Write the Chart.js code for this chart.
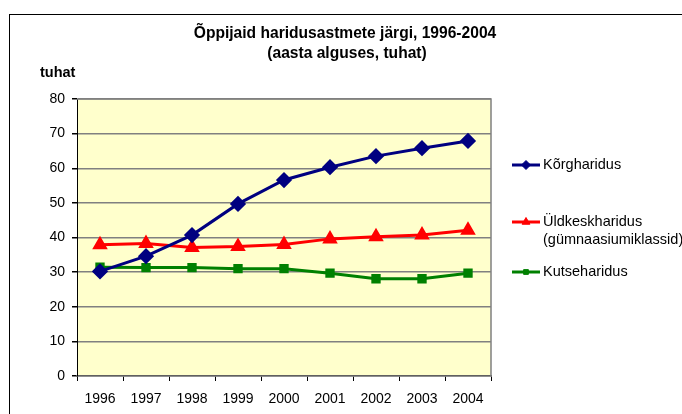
<!DOCTYPE html>
<html><head><meta charset="utf-8">
<script src="https://cdn.jsdelivr.net/npm/chart.js@4.4.0/dist/chart.umd.min.js"></script>
<style>html,body{margin:0;padding:0;background:#fff;}#wrap{width:682px;height:414px;position:relative;overflow:hidden;}</style>
</head><body><div id="wrap"><canvas id="c" width="682" height="414"></canvas></div>
<script>
const years = ['1996','1997','1998','1999','2000','2001','2002','2003','2004'];
const korgharidus = [30.2, 34.6, 40.7, 49.7, 56.6, 60.3, 63.5, 65.8, 67.9];
const yldkeskharidus = [37.9, 38.3, 37.1, 37.4, 38.0, 39.6, 40.2, 40.7, 42.1];
const kutseharidus = [31.4, 31.3, 31.3, 31.0, 31.0, 29.7, 28.1, 28.1, 29.7];
const seriesLabels = ['Kõrgharidus', 'Üldkeskharidus (gümnaasiumiklassid)', 'Kutseharidus'];
const titleLines = ['Õppijaid haridusastmete järgi, 1996-2004', '(aasta alguses, tuhat)'];
const yUnit = 'tuhat';
const yMin = 0, yMax = 80, yStep = 10;

const FONT = '"Liberation Sans", Arial, sans-serif';

const decor = {
  id: 'decor',
  beforeDraw(chart) {
    const ctx = chart.ctx, a = chart.chartArea;
    ctx.save();
    ctx.fillStyle = '#fff';
    ctx.fillRect(0, 0, chart.width, chart.height);
    ctx.strokeStyle = '#000';
    ctx.lineWidth = 1;
    ctx.strokeRect(9.5, 14.5, 800, 600);
    ctx.fillStyle = '#FFFFCC';
    ctx.fillRect(a.left, a.top, a.right - a.left, a.bottom - a.top);
    ctx.restore();
  },
  beforeDatasetsDraw(chart) {
    const ctx = chart.ctx, a = chart.chartArea;
    ctx.save();
    ctx.strokeStyle = '#808080';
    ctx.lineWidth = 1.5;
    ctx.beginPath();
    ctx.moveTo(a.left, a.top);
    ctx.lineTo(a.right, a.top);
    ctx.lineTo(a.right, a.bottom);
    ctx.stroke();
    ctx.restore();
  },
  afterDraw(chart) {
    const ctx = chart.ctx;
    ctx.save();
    ctx.fillStyle = '#000';
    ctx.textAlign = 'center';
    ctx.textBaseline = 'middle';
    ctx.font = 'bold 15.6px ' + FONT;
    ctx.fillText(titleLines[0], 345, 34);
    ctx.fillText(titleLines[1], 347, 54);
    ctx.font = 'bold 14.5px ' + FONT;
    ctx.textAlign = 'left';
    ctx.fillText(yUnit, 40, 73);
    const ys = [165, 222, 272];
    ctx.font = '14.5px ' + FONT;
    chart.data.datasets.forEach((ds, i) => {
      const y = ys[i];
      ctx.strokeStyle = ds.borderColor;
      ctx.lineWidth = 3;
      ctx.beginPath();
      ctx.moveTo(512, y);
      ctx.lineTo(540, y);
      ctx.stroke();
      ctx.fillStyle = ds.pointBackgroundColor;
      ctx.strokeStyle = ds.pointBorderColor;
      ctx.lineWidth = 1;
      Chart.helpers.drawPoint(ctx, {pointStyle: ds.pointStyle, radius: ds.pointRadius * 0.75, rotation: 0, borderWidth: 1}, 526, y);
      ctx.fillStyle = '#000';
      const txt = ds.label;
      const idx = txt.indexOf(' (');
      if (idx > 0) {
        ctx.fillText(txt.slice(0, idx), 543, y);
        ctx.fillText(txt.slice(idx + 1), 543, y + 18);
      } else {
        ctx.fillText(txt, 543, y);
      }
    });
    ctx.restore();
  }
};

new Chart(document.getElementById('c'), {
  type: 'line',
  data: {
    labels: years,
    datasets: [
      {label: seriesLabels[0], data: korgharidus, borderColor: '#000080', backgroundColor: '#000080',
       pointBackgroundColor: '#000080', pointBorderColor: '#000080', pointStyle: 'rectRot', pointRadius: 6, borderWidth: 3},
      {label: seriesLabels[1], data: yldkeskharidus, borderColor: '#FF0000', backgroundColor: '#FF0000',
       pointBackgroundColor: '#FF0000', pointBorderColor: '#FF0000', pointStyle: 'triangle', pointRadius: 6, borderWidth: 3},
      {label: seriesLabels[2], data: kutseharidus, borderColor: '#008000', backgroundColor: '#008000',
       pointBackgroundColor: '#008000', pointBorderColor: '#008000', pointStyle: 'rect', pointRadius: 4.5, borderWidth: 3}
    ]
  },
  options: {
    responsive: false,
    animation: false,
    devicePixelRatio: 1,
    layout: {padding: {left: 0, top: 99, right: 191, bottom: 0}},
    plugins: {legend: {display: false}, title: {display: false}, tooltip: {enabled: false}},
    elements: {line: {tension: 0}},
    scales: {
      x: {
        offset: true,
        grid: {offset: true, drawOnChartArea: false, drawTicks: true, tickLength: 5, color: '#000'},
        border: {color: '#606060', width: 1.5},
        ticks: {color: '#000', font: {family: FONT, size: 14}, padding: 10, maxRotation: 0, autoSkip: false},
        afterFit(s) { s.height = 38; }
      },
      y: {
        min: yMin, max: yMax,
        grid: {color: '#808080', lineWidth: 1.5, drawTicks: true, tickLength: 5, tickColor: '#000'},
        border: {color: '#000', width: 1},
        ticks: {stepSize: yStep, color: '#000', font: {family: FONT, size: 14}, padding: 7},
        afterFit(s) { s.width = 77; }
      }
    }
  },
  plugins: [decor]
});
</script></body></html>
